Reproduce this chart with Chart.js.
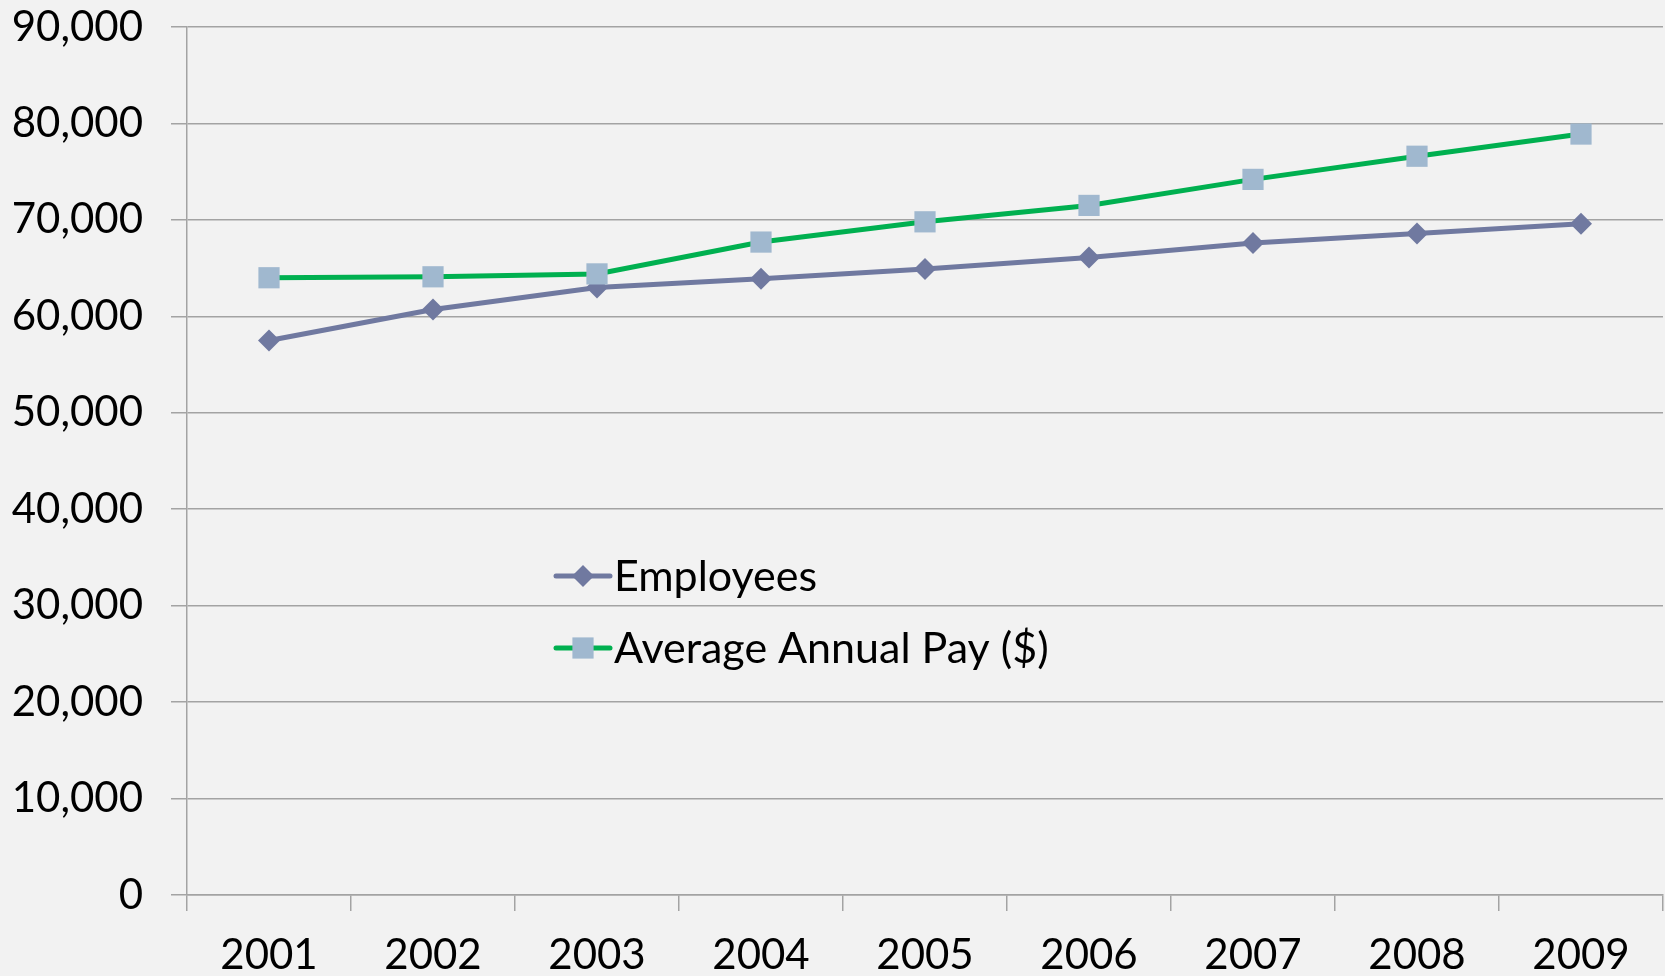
<!DOCTYPE html>
<html lang="en">
<head>
    <meta charset="UTF-8">
    <title>Employees and Average Annual Pay</title>
    <script src="https://cdn.jsdelivr.net/npm/chart.js"></script>
    <style>
        html, body {
            margin: 0;
            padding: 0;
            background: #f2f2f2;
        }
        #wrap {
            width: 1665px;
            height: 976px;
        }
    </style>
</head>
<body>
    <div id="wrap">
        <canvas id="myChart" width="1665" height="976"></canvas>
    </div>

    <script>
        // data
        const years = ['2001', '2002', '2003', '2004', '2005', '2006', '2007', '2008', '2009'];
        const employees = [57500, 60700, 63000, 63900, 64900, 66100, 67600, 68600, 69600];
        const avgPay = [64000, 64100, 64400, 67700, 69800, 71500, 74200, 76600, 78900];

        const FONT = 'Lato, "Open Sans", sans-serif';
        const GRID = '#a3a3a3';

        // legend drawn inside the plot area
        const insideLegend = {
            id: 'insideLegend',
            afterDraw(chart) {
                const ctx = chart.ctx;
                const x0 = 556, lineW = 54, rowY = [576, 648];
                ctx.save();
                chart.data.datasets.forEach((ds, i) => {
                    const y = rowY[i];
                    const cx = x0 + lineW / 2;
                    ctx.strokeStyle = ds.borderColor;
                    ctx.lineWidth = ds.borderWidth;
                    ctx.lineCap = 'round';
                    ctx.beginPath();
                    ctx.moveTo(x0, y);
                    ctx.lineTo(x0 + lineW, y);
                    ctx.stroke();
                    ctx.fillStyle = ds.pointBackgroundColor;
                    ctx.beginPath();
                    if (ds.pointStyle === 'rectRot') {
                        const r = ds.pointRadius;
                        ctx.moveTo(cx, y - r);
                        ctx.lineTo(cx + r, y);
                        ctx.lineTo(cx, y + r);
                        ctx.lineTo(cx - r, y);
                        ctx.closePath();
                    } else {
                        const h = ds.pointRadius * Math.SQRT1_2;
                        ctx.rect(cx - h, y - h, 2 * h, 2 * h);
                    }
                    ctx.fill();
                    ctx.fillStyle = '#000';
                    ctx.font = '43px ' + FONT;
                    ctx.textBaseline = 'middle';
                    ctx.textAlign = 'left';
                    ctx.fillText(ds.label, x0 + lineW + 4, y + 1);
                });
                ctx.restore();
            }
        };

        const config = {
            type: 'line',
            data: {
                labels: years,
                datasets: [{
                    label: 'Employees',
                    data: employees,
                    borderColor: '#7079a0',
                    borderWidth: 5,
                    pointStyle: 'rectRot',
                    pointRadius: 11,
                    pointBackgroundColor: '#7079a0',
                    pointBorderWidth: 0,
                    tension: 0,
                    order: 2
                }, {
                    label: 'Average Annual Pay ($)',
                    data: avgPay,
                    borderColor: '#00b050',
                    borderWidth: 5,
                    pointStyle: 'rect',
                    pointRadius: 15,
                    pointBackgroundColor: '#a0b8cf',
                    pointBorderWidth: 0,
                    tension: 0,
                    order: 1
                }]
            },
            options: {
                responsive: false,
                animation: false,
                layout: {
                    autoPadding: false,
                    padding: { top: 27, right: 2, left: 0, bottom: 0 }
                },
                plugins: {
                    legend: { display: false },
                    tooltip: { enabled: false }
                },
                scales: {
                    x: {
                        offset: true,
                        afterFit(scale) { scale.height = 81; },
                        grid: {
                            offset: true,
                            drawOnChartArea: false,
                            drawTicks: true,
                            tickLength: 16,
                            color: GRID,
                            lineWidth: 1.5
                        },
                        border: { color: GRID, width: 1.5 },
                        ticks: {
                            color: '#000',
                            padding: 19,
                            maxRotation: 0,
                            font: { family: FONT, size: 42 }
                        }
                    },
                    y: {
                        min: 0,
                        max: 90000,
                        afterFit(scale) {
                            scale.width = 187;
                            scale.paddingTop = 0;
                            scale.paddingBottom = 0;
                        },
                        grid: {
                            color: GRID,
                            lineWidth: 1.5,
                            tickLength: 16
                        },
                        border: { color: GRID, width: 1.5 },
                        ticks: {
                            stepSize: 10000,
                            color: '#000',
                            padding: 28,
                            font: { family: FONT, size: 42 },
                            callback: v => v.toLocaleString('en-US')
                        }
                    }
                }
            },
            plugins: [insideLegend]
        };

        const ctx = document.getElementById('myChart').getContext('2d');
        const myChart = new Chart(ctx, config);
    </script>
</body>
</html>
